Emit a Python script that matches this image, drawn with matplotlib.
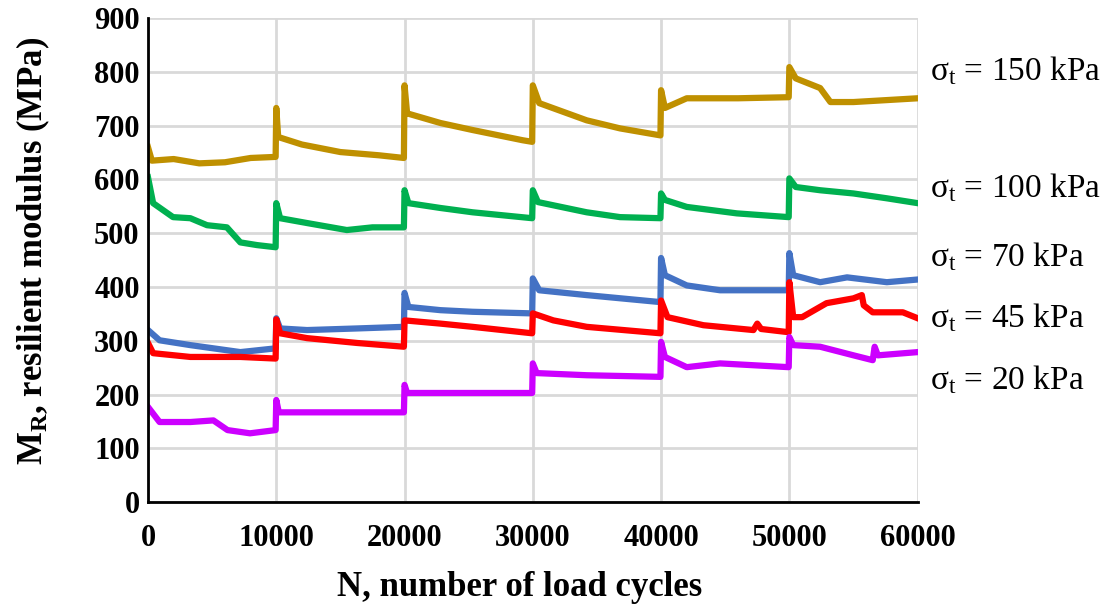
import matplotlib.pyplot as plt

plt.rcParams['font.family'] = 'Liberation Serif'
plt.rcParams['mathtext.fontset'] = 'custom'
plt.rcParams['mathtext.rm'] = 'Liberation Serif'
plt.rcParams['mathtext.it'] = 'Liberation Serif:italic'
plt.rcParams['mathtext.bf'] = 'Liberation Serif:bold'

# values (N cycles, MR in MPa)
gold_x = [0, 300, 2000, 4000, 6000, 8000, 9950, 10000, 10150, 12000, 15000, 18000, 19950,
          20000, 20200, 22800, 25300, 29200, 29950, 30000, 30500, 34200, 36800, 39950,
          40000, 40300, 42000, 46000, 49950, 50000, 50500, 52400, 53200, 55000, 60000]
gold_y = [660, 635, 638, 630, 632, 640, 642, 733, 679, 665, 651, 645, 640,
          775, 723, 705, 692, 673, 670, 775, 742, 710, 695, 682,
          766, 733, 751, 751, 753, 809, 788, 770, 744, 744, 751]

green_x = [0, 400, 1950, 3300, 4600, 6150, 7200, 8500, 9950, 10000, 10300, 12400, 15500,
           17500, 19950, 20000, 20300, 22800, 25300, 29950, 30000, 30400, 34200, 36800,
           39950, 40000, 40300, 42000, 45900, 49950, 50000, 50500, 52400, 55000, 57600, 60000]
green_y = [604, 556, 530, 528, 515, 511, 483, 478, 474, 556, 528, 519, 506,
           511, 511, 580, 556, 547, 539, 528, 580, 558, 539, 530,
           528, 574, 562, 549, 537, 530, 602, 586, 580, 574, 565, 556]

blue_x = [0, 900, 3300, 7200, 9950, 10000, 10300, 12400, 16300, 19950, 20000, 20300, 22800,
          25300, 29950, 30000, 30500, 34200, 39950, 40000, 40300, 42000, 44600, 49950,
          50000, 50300, 52400, 54500, 57600, 60000]
blue_y = [320, 301, 292, 279, 286, 342, 323, 320, 323, 326, 389, 363, 357,
          354, 351, 416, 394, 385, 372, 454, 422, 403, 394, 394,
          463, 422, 409, 418, 409, 414]

red_x = [0, 400, 3300, 7200, 9950, 10000, 10300, 12400, 16300, 19950, 20000, 22800, 25300,
         29950, 30000, 31600, 34200, 39950, 40000, 40500, 43300, 47200, 47500, 47800,
         49950, 50000, 50300, 51000, 52900, 55000, 55650, 55800, 56500, 58850, 60000]
red_y = [296, 277, 270, 270, 267, 340, 314, 305, 296, 289, 338, 332, 326,
         314, 351, 338, 326, 314, 375, 344, 329, 320, 332, 322,
         316, 409, 344, 344, 370, 379, 385, 366, 353, 353, 342]

mag_x = [0, 900, 3300, 5100, 6200, 7950, 9950, 10000, 10200, 15000, 19950, 20000, 20200,
         25300, 29950, 30000, 30300, 34200, 39950, 40000, 40300, 42000, 44600, 49950,
         50000, 50300, 52400, 55000, 56500, 56650, 56900, 60000]
mag_y = [177, 149, 149, 152, 134, 128, 134, 190, 167, 167, 167, 218, 203,
         203, 203, 258, 240, 236, 233, 298, 270, 251, 258, 251,
         307, 292, 289, 273, 264, 289, 273, 279]

labels = ['150', '100', '70', '45', '20']
label_y = [803, 584, 456, 342, 227]

fig = plt.figure(figsize=(11.17, 6.05), dpi=100)
ax = fig.add_axes([0.1325, 0.170, 0.689, 0.800])

series = [(gold_x, gold_y, '#BF9000'), (green_x, green_y, '#00B050'),
          (blue_x, blue_y, '#4472C4'), (red_x, red_y, '#FF0000'),
          (mag_x, mag_y, '#CC00FF')]
for xs, ys, c in series:
    ax.plot(xs, ys, color=c, linewidth=4.5, solid_joinstyle='round', zorder=3)

ax.set_xlim(0, 60000)
ax.set_ylim(0, 900)
ax.set_xticks(range(0, 60001, 10000))
ax.set_yticks(range(0, 901, 100))
ax.grid(True, color='#D9D9D9', linewidth=2)
ax.set_axisbelow(True)
for s in ['top', 'right']:
    ax.spines[s].set_visible(False)
for s in ['left', 'bottom']:
    ax.spines[s].set_linewidth(2)
    ax.spines[s].set_zorder(4)
ax.tick_params(length=0, labelsize=22)
ax.tick_params(axis='x', pad=16)
ax.tick_params(axis='y', pad=6)
for t in ax.get_xticklabels() + ax.get_yticklabels():
    t.set_fontweight('bold')

ax.set_xlabel('N, number of load cycles', fontsize=25, fontweight='bold', va='center')
ax.set_ylabel(r'M$_{\mathbf{R}}$, resilient modulus (MPa)', fontsize=25,
              fontweight='bold', va='center')
ax.xaxis.set_label_coords(0.483, -0.176)
ax.yaxis.set_label_coords(-0.149, 0.52)

for lab, yv in zip(labels, label_y):
    ax.text(61000, yv, 'σ$_\\mathrm{t}$ = ' + lab + ' kPa', fontsize=24,
            va='center', ha='left', clip_on=False)

fig.savefig('out.png', dpi=100)
